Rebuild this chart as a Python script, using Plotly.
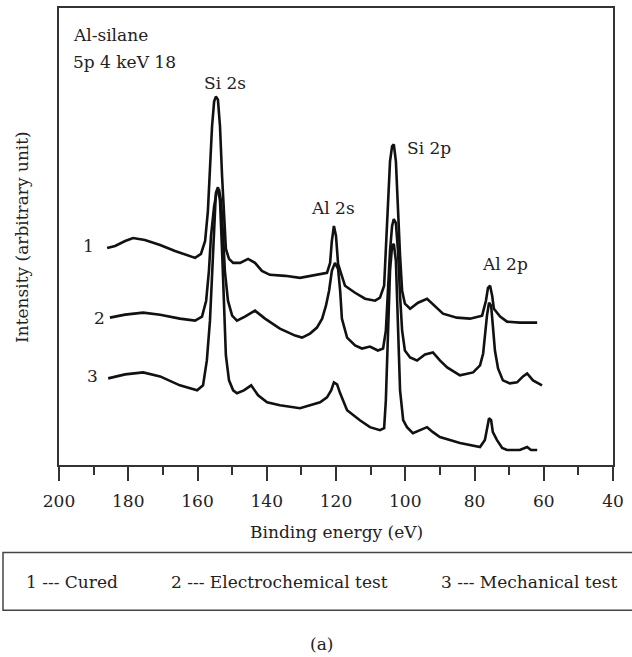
import plotly.graph_objects as go

# Binding energy (eV) and intensity (arbitrary units, offset curves)
be_cured = [186.1, 183.8, 180.9, 178.6, 175.2, 170.8, 166.5, 162.7, 160.7, 159.0, 157.8, 157.0, 156.4, 155.8,
            155.2, 154.7, 154.1, 153.5, 152.9, 152.3, 151.8, 150.9, 149.7, 147.7, 145.4, 143.4, 141.4, 139.1,
            134.7, 130.4, 126.1, 122.6, 121.7, 121.2, 120.6, 120.0, 119.4, 118.6, 117.4, 114.5, 111.6, 108.7,
            107.3, 106.1, 105.6, 105.0, 104.4, 103.8, 103.3, 102.7, 102.1, 101.5, 100.9, 100.1, 98.6, 96.3,
            93.7, 91.4, 89.1, 85.1, 81.3, 77.8, 76.7, 76.1, 75.5, 74.9, 74.4, 72.6, 70.6, 66.9, 61.9]
int_cured = [218, 220, 225, 228, 226, 221, 215, 210, 208, 212, 225, 255, 300, 340,
             365, 370, 367, 340, 290, 245, 217, 207, 203, 203, 207, 203, 195, 191,
             190, 188, 191, 193, 203, 225, 240, 230, 202, 193, 180, 173, 167, 165,
             168, 180, 215, 265, 305, 320, 322, 305, 255, 210, 175, 162, 157, 163,
             167, 159, 152, 148, 147, 150, 165, 178, 180, 170, 157, 149, 144, 143, 143]

be_electro = [185.3, 180.9, 175.7, 170.8, 165.1, 160.7, 158.7, 157.5, 156.7, 156.1, 155.2, 154.4, 153.8, 153.2,
              152.6, 152.1, 151.2, 150.0, 148.6, 146.3, 143.4, 140.5, 136.2, 131.8, 129.8, 127.5, 125.5, 124.0,
              122.9, 122.0, 121.2, 120.3, 119.4, 118.8, 118.3, 116.8, 114.5, 112.5, 110.2, 107.9, 106.4, 105.6,
              105.0, 104.4, 103.8, 103.3, 102.7, 102.1, 101.5, 100.9, 100.1, 98.6, 96.6, 94.3, 92.0, 90.0,
              87.9, 84.2, 80.4, 78.4, 77.5, 77.0, 76.4, 75.8, 75.2, 74.7, 74.1, 73.2, 71.8, 69.8, 67.7,
              66.0, 64.8, 63.1, 60.5]
int_electro = [148, 151, 153, 151, 147, 145, 149, 165, 195, 230, 260, 275, 277, 265,
               230, 195, 165, 150, 145, 149, 155, 147, 137, 130, 128, 132, 138, 147,
               160, 175, 195, 203, 197, 175, 147, 128, 120, 117, 119, 115, 117, 135,
               175, 215, 240, 247, 243, 215, 170, 135, 115, 108, 105, 111, 113, 105,
               98, 90, 93, 100, 112, 130, 150, 163, 160, 140, 115, 97, 85, 82, 83,
               89, 92, 85, 80]

be_mech = [185.8, 180.9, 175.7, 170.8, 165.1, 160.1, 158.4, 157.3, 156.4, 155.8, 155.2, 154.7, 154.1, 153.5,
           152.9, 152.3, 151.8, 150.9, 149.7, 148.6, 146.6, 144.5, 142.5, 139.9, 136.2, 130.4, 124.6, 122.6,
           121.4, 120.6, 119.7, 118.8, 116.8, 113.1, 110.2, 107.3, 106.1, 105.6, 105.0, 104.4, 103.8, 103.3,
           102.7, 102.1, 101.5, 100.6, 99.5, 97.8, 95.7, 93.7, 92.0, 90.0, 84.2, 78.4, 77.0, 76.4, 75.8,
           75.2, 74.7, 73.5, 72.0, 70.6, 66.9, 64.8, 63.7, 61.9]
int_mech = [87, 91, 93, 89, 80, 75, 80, 105, 145, 195, 245, 273, 279, 265,
            215, 155, 110, 85, 75, 72, 75, 80, 70, 63, 60, 57, 63, 68,
            75, 83, 81, 72, 55, 45, 38, 35, 37, 65, 135, 195, 220, 222,
            205, 135, 75, 45, 38, 32, 35, 38, 33, 28, 22, 18, 25, 37, 47,
            45, 33, 25, 17, 15, 15, 18, 15, 15]

legend_items = ["1 --- Cured", "2 --- Electrochemical test", "3 --- Mechanical test"]
curve_numbers = ["1", "2", "3"]

FONT = "DejaVu Serif"
TXT = "#222222"
F = dict(family=FONT, size=17, color=TXT)

fig = go.Figure()
for be, inten, name in [(be_cured, int_cured, legend_items[0]),
                        (be_electro, int_electro, legend_items[1]),
                        (be_mech, int_mech, legend_items[2])]:
    fig.add_trace(go.Scatter(x=be, y=inten, mode="lines", name=name,
                             line=dict(color="#111111", width=2.6), showlegend=False))

W, H = 632, 657
L, R, T, B = 59, 613, 6, 465

fig.update_layout(
    width=W, height=H,
    margin=dict(l=L, r=W - R, t=T, b=H - B),
    paper_bgcolor="white", plot_bgcolor="white",
    font=F,
    showlegend=False,
)
fig.update_xaxes(range=[200, 40], tickmode="array", tickvals=list(range(200, 39, -20)),
                 ticks="outside", ticklen=14, tickwidth=1.5, tickcolor="#333333",
                 minor=dict(tickvals=list(range(190, 40, -20)), ticks="outside", ticklen=8,
                            tickwidth=1.5, tickcolor="#333333"),
                 showline=True, linecolor="#333333", linewidth=1.5, mirror=True,
                 showgrid=False, zeroline=False, tickfont=F,
                 ticklabelstandoff=6)
fig.update_yaxes(range=[0, 459], showticklabels=False, ticks="", showline=True,
                 linecolor="#333333", linewidth=1.5, mirror=True, showgrid=False, zeroline=False)

def px2paper_x(px):
    return (px - L) / (R - L)

def py2paper_y(py):
    return (B - py) / (B - T)

ann = []
ann.append(dict(text="Al-silane", x=px2paper_x(71), y=py2paper_y(33), xref="paper", yref="paper",
                xanchor="left", yanchor="middle", showarrow=False, font=F))
ann.append(dict(text="5p 4 keV 18", x=px2paper_x(71), y=py2paper_y(60), xref="paper", yref="paper",
                xanchor="left", yanchor="middle", showarrow=False, font=F))
for txt, xv, yv, xa in [("Si 2s", 152.1, 384, "center"), ("Al 2s", 120.9, 258, "center"),
                        ("Si 2p", 100.1, 318, "left"), ("Al 2p", 71.2, 202, "center")]:
    ann.append(dict(text=txt, x=xv, y=yv, xref="x", yref="y", xanchor=xa, yanchor="middle",
                    showarrow=False, font=F))
for txt, xv, yv in zip(curve_numbers, [191.6, 188.4, 190.2], [220, 148, 89]):
    ann.append(dict(text=txt, x=xv, y=yv, xref="x", yref="y", xanchor="center", yanchor="middle",
                    showarrow=False, font=F))
ann.append(dict(text="Binding energy (eV)", x=px2paper_x(336), y=py2paper_y(532), xref="paper",
                yref="paper", xanchor="center", yanchor="middle", showarrow=False, font=F))
ann.append(dict(text="Intensity (arbitrary unit)", x=px2paper_x(22), y=py2paper_y(236), xref="paper",
                yref="paper", xanchor="center", yanchor="middle", textangle=-90, showarrow=False, font=F))
for txt, px in zip(legend_items, [24, 169, 439]):
    ann.append(dict(text=txt, x=px2paper_x(px), y=py2paper_y(583), xref="paper", yref="paper",
                    xanchor="left", yanchor="middle", showarrow=False, font=F))
ann.append(dict(text="(a)", x=px2paper_x(321), y=py2paper_y(645), xref="paper", yref="paper",
                xanchor="center", yanchor="middle", showarrow=False, font=F))
fig.update_layout(annotations=ann)

fig.add_shape(type="rect", xref="paper", yref="paper",
              x0=px2paper_x(3), x1=px2paper_x(640), y0=py2paper_y(611), y1=py2paper_y(553),
              line=dict(color="#444444", width=1.5), fillcolor="rgba(0,0,0,0)")

fig.write_html("out.html")
